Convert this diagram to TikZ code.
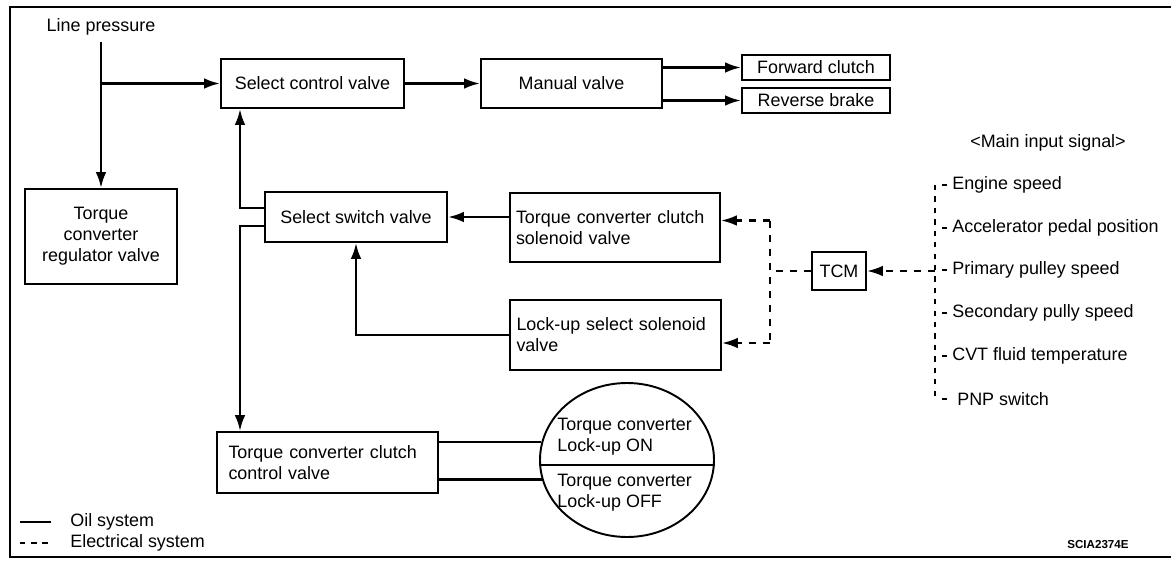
\documentclass[tikz,border=0pt]{standalone}
\usepackage{fontspec}
\setmainfont{Liberation Sans}
\usetikzlibrary{arrows.meta,calc,shapes.geometric}
% lengths given in drawing units (1 unit = 0.02cm)
\newcommand\pu[1]{#1*0.02cm}
\begin{document}
\begin{tikzpicture}[x=0.02cm,y=-0.02cm,
  font=\fontsize{10.2}{11.9}\selectfont,
  box/.style={draw, line width=1.1pt, inner sep=0pt},
  oil/.style={line width=1.4pt},
  oilarrow/.style={oil, -{Latex[length=9pt,width=6pt]}},
  elec/.style={line width=1.3pt, dash pattern=on 4pt off 4pt},
  elecarrow/.style={elec, -{Latex[length=9pt,width=6pt]}},
  tick/.style={line width=1.3pt, dash pattern=on 3pt off 3.5pt},
  lbl/.style={inner sep=0pt, anchor=west}
]
\useasboundingbox (0,0) rectangle (1171,565);

% frame
\draw[line width=1.6pt] (1171,7) -- (10,7) -- (10,557) -- (1171,557);

% hydraulic components
\node (lp) at (101,27) {Line pressure};
\node[box, minimum width=\pu{152}, minimum height=\pu{95}, align=center] (reg) at (101,236.5) {Torque\\converter\\regulator valve};
\node[box, minimum width=\pu{183}, minimum height=\pu{49}] (selctl) at (312.5,83.5) {Select control valve};
\node[box, minimum width=\pu{181}, minimum height=\pu{49}] (manual) at (571.5,83.5) {Manual valve};
\node[box, minimum width=\pu{148}, minimum height=\pu{25}] (fwd) at (816,67.5) {Forward clutch};
\node[box, minimum width=\pu{148}, minimum height=\pu{25}] (rev) at (816,100.5) {Reverse brake};
\node[box, minimum width=\pu{182}, minimum height=\pu{50}] (selsw) at (356,217) {Select switch valve};
\node[box, minimum width=\pu{210}, minimum height=\pu{69}, text width=\pu{198}, align=left] (tccsol) at (615,227.5) {Torque converter clutch\\solenoid valve};
\node[box, minimum width=\pu{211}, minimum height=\pu{70}, text width=\pu{198}, align=left] (lusol) at (615.5,335) {Lock-up select solenoid\\valve};
\node[box, minimum width=\pu{54}, minimum height=\pu{38}] (tcm) at (839,271) {TCM};
\node[box, minimum width=\pu{221}, minimum height=\pu{61}, text width=\pu{198}, align=left] (tccctl) at (327.5,462.5) {Torque converter clutch\\control valve};

% torque converter states
\node[draw, ellipse, line width=1.1pt, inner sep=0pt, minimum width=\pu{174}, minimum height=\pu{154}] (ell) at (627,460) {};
\draw[line width=1.1pt] (ell.183) -- (ell.-3);
\node[lbl, align=left] (lkon) at (557,437) {Torque converter\\Lock-up ON};
\node[lbl, align=left] (lkoff) at (557,492.5) {Torque converter\\Lock-up OFF};

% oil circuit
\coordinate (xv) at (240,0);
\coordinate (lpj) at (101,83.5);
\draw[oilarrow] (lp.south) -- (reg.north);
\draw[oilarrow] (lpj) -- (selctl.west);
\draw[oilarrow] (selctl.east) -- (manual.west);
\draw[oilarrow] (manual.east |- fwd.west) -- (fwd.west);
\draw[oilarrow] (manual.east |- rev.west) -- (rev.west);
\draw[oilarrow] ($(selsw.west)+(0,-9)$) -| (xv |- selctl.south);
\draw[oilarrow] ($(selsw.west)+(0,9)$) -| (xv |- tccctl.north);
\draw[oilarrow] (tccsol.west |- selsw.east) -- (selsw.east);
\draw[oilarrow] (lusol.west) -| (selsw.south);
\draw[oil] (tccctl.east |- ell.168) -- (ell.168);
\draw[oil] (tccctl.east |- ell.193) -- (ell.193);

% electrical circuit
\coordinate (ev) at (770,0);
\coordinate (a1) at ($(tccsol.east)+(0,-7)$);
\coordinate (a2) at ($(lusol.east)+(0,8)$);
\draw[elec] (tcm.west) -- (ev |- tcm.west);
\draw[elec] (ev |- a1) -- (ev |- a2);
\draw[elecarrow] (ev |- a1) -- (a1);
\draw[elecarrow] (ev |- a2) -- (a2);

% input signals
\node (mis) at (1048,143) {<Main input signal>};
\coordinate (vx) at (935,0);
\node[lbl] (s1) at (952,185) {Engine speed};
\node[lbl] (s2) at (952,228) {Accelerator pedal position};
\node[lbl] (s3) at (952,270) {Primary pulley speed};
\node[lbl] (s4) at (952,313) {Secondary pully speed};
\node[lbl] (s5) at (952,356) {CVT fluid temperature};
\node[lbl] (s6) at (957,399) {PNP switch};
\draw[tick] (vx |- s1.west) -- (vx |- s6.west);
\foreach \s in {s1,s2,s3,s4,s5,s6}
  \draw[tick] ($(vx |- \s.west)+(7,0)$) -- ++(7,0);
\draw[elecarrow] (vx |- tcm.east) -- (tcm.east);

% legend
\draw[oil] (20,522) -- (51,522);
\node[lbl] (loil) at (70,522) {Oil system};
\draw[line width=1.3pt, dash pattern=on 3pt off 3.4pt] (20,543) -- (51,543);
\node[lbl] (lel) at (70,543) {Electrical system};
\node[font=\fontsize{6.6}{8}\selectfont\bfseries] (code) at (1098,545) {SCIA2374E};
\end{tikzpicture}
\end{document}
